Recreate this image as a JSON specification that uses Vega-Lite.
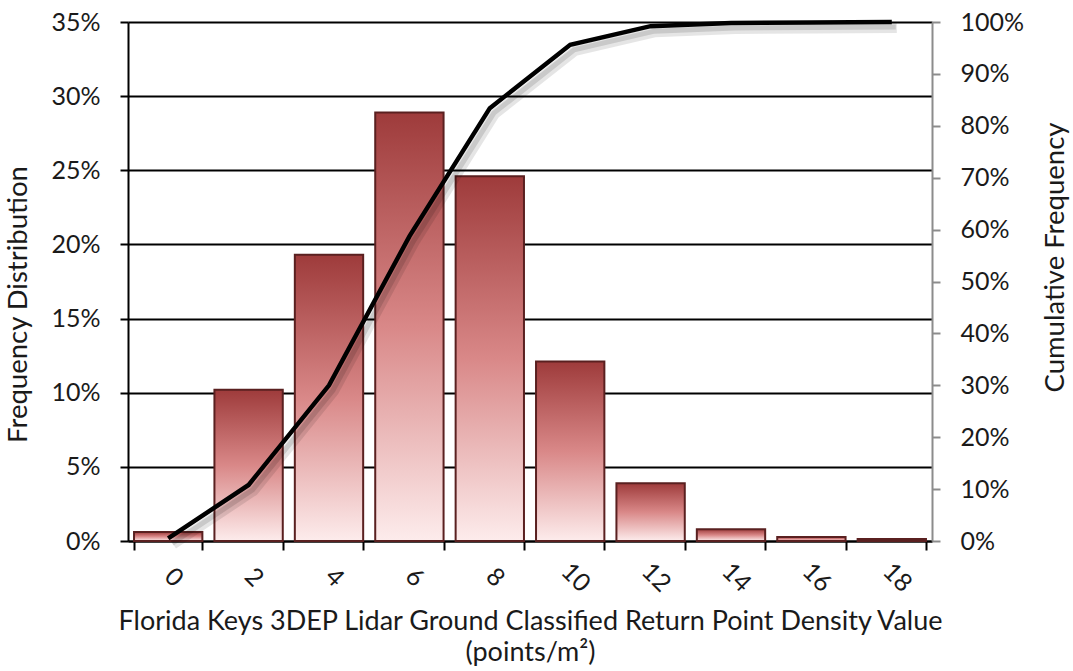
{
  "$schema": "https://vega.github.io/schema/vega-lite/v6.json",
  "width": 804,
  "height": 519,
  "autosize": {"type": "none"},
  "padding": {"left": 128, "top": 22, "right": 141, "bottom": 130},
  "background": "white",
  "config": {
    "font": "Lato",
    "view": {"stroke": null},
    "axis": {"labelFont": "Lato", "titleFont": "Lato", "labelColor": "#1a1a1a", "titleColor": "#1a1a1a", "titleFontWeight": "normal"}
  },
  "data": {
    "values": [
      {"density": "0", "freq": 0.006, "cum": 0.005},
      {"density": "2", "freq": 0.102, "cum": 0.108},
      {"density": "4", "freq": 0.193, "cum": 0.300},
      {"density": "6", "freq": 0.289, "cum": 0.587},
      {"density": "8", "freq": 0.246, "cum": 0.834},
      {"density": "10", "freq": 0.121, "cum": 0.956},
      {"density": "12", "freq": 0.039, "cum": 0.992},
      {"density": "14", "freq": 0.008, "cum": 0.998},
      {"density": "16", "freq": 0.0027, "cum": 0.999},
      {"density": "18", "freq": 0.0013, "cum": 1.0}
    ]
  },
  "encoding": {
    "x": {
      "field": "density",
      "type": "ordinal",
      "sort": null,
      "scale": {"paddingInner": 0.15, "paddingOuter": 0.075},
      "axis": {
        "title": ["Florida Keys 3DEP Lidar Ground Classified Return Point Density Value", "(points/m²)"],
        "titleFontSize": 27,
        "titleLineHeight": 31,
        "titlePadding": 12,
        "labelAngle": 45,
        "labelAlign": "center",
        "labelBaseline": "middle",
        "labelFontSize": 25,
        "labelPadding": 27,
        "labelOffset": 5,
        "tickBand": "extent",
        "tickSize": 9,
        "tickWidth": 2,
        "tickColor": "#000000",
        "domainColor": "#000000",
        "domainWidth": 2
      }
    }
  },
  "layer": [
    {
      "mark": {
        "type": "bar",
        "stroke": "#5a2020",
        "strokeWidth": 2,
        "color": {
          "gradient": "linear",
          "x1": 0, "y1": 0, "x2": 0, "y2": 1,
          "stops": [
            {"offset": 0, "color": "#9e3b3b"},
            {"offset": 0.5, "color": "#d98888"},
            {"offset": 1, "color": "#fdecec"}
          ]
        }
      },
      "encoding": {
        "y": {
          "field": "freq",
          "type": "quantitative",
          "scale": {"domain": [0, 0.35], "nice": false},
          "axis": {
            "title": "Frequency Distribution",
            "titleFontSize": 27.5,
            "titleX": -96,
            "titleY": 282,
            "values": [0, 0.05, 0.1, 0.15, 0.2, 0.25, 0.3, 0.35],
            "format": ".0%",
            "labelFontSize": 25,
            "labelPadding": 20,
            "tickSize": 8,
            "tickWidth": 2,
            "tickColor": "#000000",
            "domainColor": "#000000",
            "domainWidth": 2,
            "grid": true,
            "gridColor": "#000000",
            "gridWidth": 2,
            "zindex": 0
          }
        }
      }
    },
    {
      "mark": {"type": "line", "color": "#000000", "opacity": 0.1, "strokeWidth": 10, "xOffset": 5, "yOffset": 6},
      "encoding": {"y": {"field": "cum", "type": "quantitative", "scale": {"domain": [0, 1], "nice": false}, "axis": null}}
    },
    {
      "mark": {"type": "line", "color": "#000000", "opacity": 0.12, "strokeWidth": 5, "xOffset": 4, "yOffset": 5},
      "encoding": {"y": {"field": "cum", "type": "quantitative", "scale": {"domain": [0, 1], "nice": false}, "axis": null}}
    },
    {
      "mark": {"type": "line", "color": "#000000", "strokeWidth": 4.5},
      "encoding": {
        "y": {
          "field": "cum",
          "type": "quantitative",
          "scale": {"domain": [0, 1], "nice": false},
          "axis": {
            "orient": "right",
            "title": "Cumulative Frequency",
            "titleFontSize": 27.5,
            "titleAngle": -90,
            "titleX": 137,
            "titleY": 235,
            "values": [0, 0.1, 0.2, 0.3, 0.4, 0.5, 0.6, 0.7, 0.8, 0.9, 1.0],
            "format": ".0%",
            "labelFontSize": 25,
            "labelPadding": 20,
            "tickSize": 8,
            "tickWidth": 2,
            "tickColor": "#8c8c8c",
            "domainColor": "#8c8c8c",
            "domainWidth": 2,
            "grid": false
          }
        }
      }
    }
  ],
  "resolve": {"scale": {"y": "independent"}}
}
